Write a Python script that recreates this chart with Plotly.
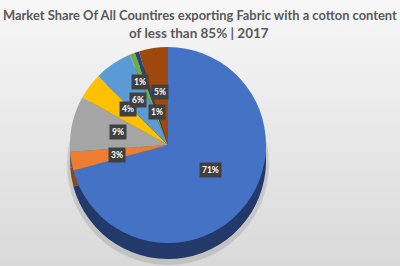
import math
import plotly.graph_objects as go

# ---- data ----
segments = ["Seg A", "Seg B", "Seg C", "Seg D", "Seg E", "Seg F", "Seg G", "Seg H"]
shares = [70.8, 3.1, 9.2, 4.3, 6.2, 0.9, 0.7, 4.8]
top_colors = ["#4472C4", "#ED7D31", "#A5A5A5", "#FFC000", "#5B9BD5", "#70AD47", "#264478", "#9E480E"]
side_colors = ["#22396A", "#8A4A1E", "#626262", "#977200", "#365C80", "#42672A", "#162846", "#5E2B08"]
title_line1 = "Market Share Of All Countires exporting Fabric with a cotton content"
title_line2 = "of less than 85% | 2017"
label_radius = [0.55, 0.62, 0.62, 0.62, 0.55, 0.78, 0.35, 0.55]

W, H = 400, 266
cx, cy, R = 168, 145, 98
depth = 16

def dom(cx_, cy_, r_):
    return dict(x=[max(0, (cx_ - r_) / W), min(1, (cx_ + r_) / W)],
                y=[max(0, 1 - (cy_ + r_) / H), min(1, 1 - (cy_ - r_) / H)])

fig = go.Figure()

# background gradient
fig.add_trace(go.Scatter(
    x=[0, 1, 1, 0, 0], y=[0, 0, 1, 1, 0], mode="lines", fill="toself",
    line=dict(width=0), hoverinfo="skip", showlegend=False,
    fillgradient=dict(type="vertical", colorscale=[[0, "#d9d9d9"], [1, "#f7f7f7"]]),
))

# soft shadow
fig.add_trace(go.Pie(
    values=[1], marker=dict(colors=["rgba(150,150,150,0.35)"]),
    domain=dom(cx, cy + depth + 3, R + 3), textinfo="none", hoverinfo="skip",
    showlegend=False, sort=False,
))
# side (depth) of the pie
fig.add_trace(go.Pie(
    labels=segments, values=shares, marker=dict(colors=side_colors, line=dict(width=0)),
    domain=dom(cx, cy + depth, R), textinfo="none", sort=False,
    direction="clockwise", rotation=0, showlegend=False, hoverinfo="skip",
))
# top face
fig.add_trace(go.Pie(
    labels=segments, values=shares, marker=dict(colors=top_colors, line=dict(width=0)),
    domain=dom(cx, cy, R), textinfo="none", sort=False,
    direction="clockwise", rotation=0, showlegend=False,
))

# data labels
total = sum(shares)
cum = 0
for v, fr in zip(shares, label_radius):
    mid = (cum + v / 2) / total * 2 * math.pi
    cum += v
    px = cx + fr * R * math.sin(mid)
    py = cy - fr * R * math.cos(mid)
    fig.add_annotation(
        x=px / W, y=1 - py / H, xref="paper", yref="paper",
        text="<b>%d%%</b>" % round(v / total * 100), showarrow=False,
        font=dict(family="Lato, Open Sans, sans-serif", size=8.5, color="white"),
        bgcolor="#404040", borderpad=2,
    )

# title
fig.add_annotation(x=200 / W, y=1 - 15 / H, xref="paper", yref="paper",
                   text="<b>" + title_line1 + "</b>", showarrow=False,
                   xanchor="center", yanchor="middle",
                   font=dict(family="Lato, Open Sans, sans-serif", size=12.9, color="#595959"))
fig.add_annotation(x=199 / W, y=1 - 33 / H, xref="paper", yref="paper",
                   text="<b>" + title_line2 + "</b>", showarrow=False,
                   xanchor="center", yanchor="middle",
                   font=dict(family="Lato, Open Sans, sans-serif", size=13.5, color="#595959"))

fig.update_layout(
    width=W, height=H,
    margin=dict(l=0, r=0, t=0, b=0),
    paper_bgcolor="#ececec", plot_bgcolor="rgba(0,0,0,0)",
    xaxis=dict(visible=False, range=[0, 1], domain=[0, 1], fixedrange=True),
    yaxis=dict(visible=False, range=[0, 1], domain=[0, 1], fixedrange=True),
    showlegend=False,
)

fig.write_html("out.html")
